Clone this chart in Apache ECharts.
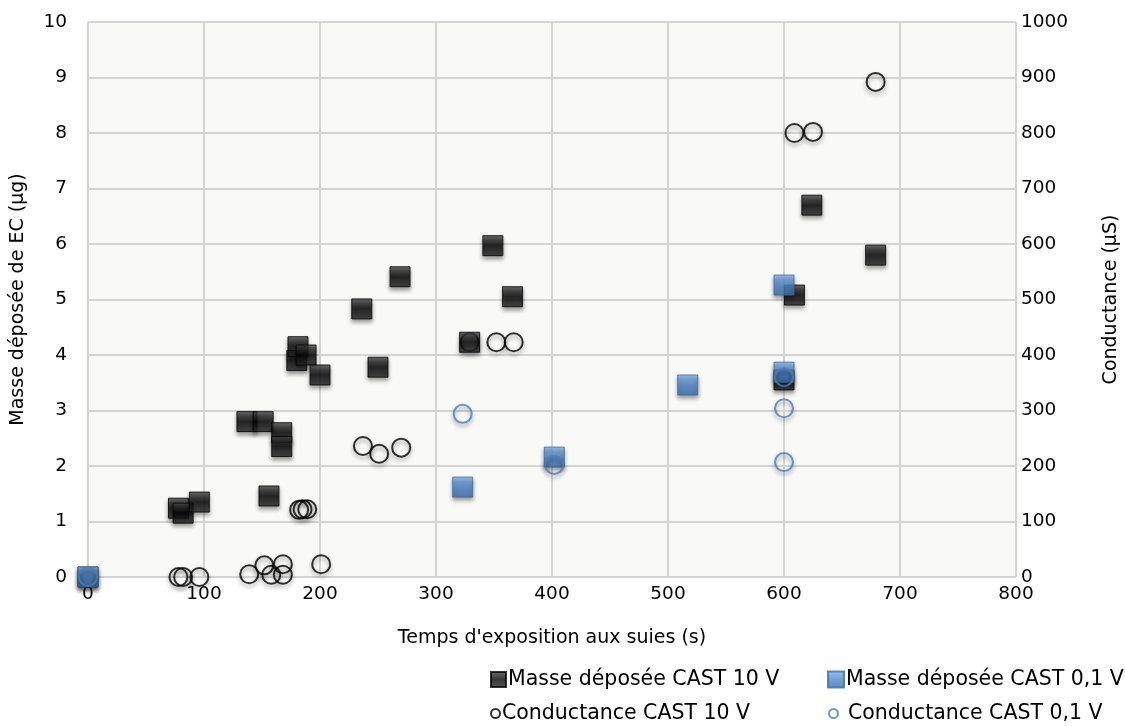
<!DOCTYPE html>
<html lang="fr">
<head>
    <meta charset="UTF-8">
    <title>Masse déposée et conductance</title>
    <style>
        html, body { margin: 0; padding: 0; background: #ffffff; }
        #chart { width: 1125px; height: 726px; }
    </style>
    <script src="https://cdn.jsdelivr.net/npm/echarts@6/dist/echarts.min.js"></script>
</head>
<body>
    <div id="chart"></div>
    <script>
        // Masse déposée CAST 10 V (µg, left axis)
        var masse10X = [0, 78, 82, 96, 137, 151, 156, 167, 167, 180, 181, 188, 200, 236, 250, 269, 329, 349, 366, 600, 609, 624, 679];
        var masse10Y = [0, 1.24, 1.15, 1.35, 2.8, 2.8, 1.46, 2.6, 2.35, 3.9, 4.15, 4.0, 3.64, 4.83, 3.78, 5.41, 4.23, 5.97, 5.05, 3.55, 5.08, 6.7, 5.8];

        // Masse déposée CAST 0,1 V (µg, left axis)
        var masse01X = [0, 323, 402, 517, 600, 600];
        var masse01Y = [0, 1.62, 2.16, 3.46, 3.69, 5.26];

        // Conductance CAST 10 V (µS, right axis)
        var cond10X = [78, 82, 96, 139, 152, 158, 168, 168, 182, 185, 189, 201, 237, 251, 270, 329, 352, 367, 609, 625, 679];
        var cond10Y = [0, 0, 0, 5, 21, 4, 23, 4, 121, 122, 122, 23, 236, 222, 233, 423, 423, 423, 800, 802, 892];

        // Conductance CAST 0,1 V (µS, right axis)
        var cond01X = [0, 323, 402, 600, 600, 600];
        var cond01Y = [0, 294, 202, 360, 304, 207];

        var seriesNames = ['Masse déposée CAST 10 V', 'Masse déposée CAST 0,1 V', 'Conductance CAST 10 V', 'Conductance CAST 0,1 V'];

        function pairs(xs, ys) {
            return xs.map(function (x, i) { return [x, ys[i]]; });
        }

        var font = 'DejaVu Sans';
        var shadow = { shadowColor: 'rgba(0,0,0,0.45)', shadowBlur: 4, shadowOffsetY: 3 };

        // one legend block per entry so the two columns line up like the original
        function legendAt(name, left, top, size, textPad) {
            return {
                left: left, top: top, padding: 0,
                itemWidth: size, itemHeight: size, itemGap: 0,
                textStyle: { fontFamily: font, fontSize: 20.5, color: '#000', padding: [0, 0, 0, textPad] },
                data: [name]
            };
        }

        var axisText = { fontFamily: font, fontSize: 18.5, color: '#000' };
        var nameText = { fontFamily: font, fontSize: 19, color: '#000' };
        var gridLine = { lineStyle: { color: '#d4d4d4', width: 2 } };

        var chart = echarts.init(document.getElementById('chart'));

        chart.setOption({
            animation: false,
            backgroundColor: '#ffffff',
            textStyle: { fontFamily: font, color: '#000' },
            grid: {
                left: 88, right: 109, top: 22, bottom: 149,
                outerBoundsMode: 'none', containLabel: false,
                show: true, backgroundColor: '#f9f9f8', borderWidth: 0
            },
            legend: [
                legendAt(seriesNames[0], 490, 669, 15, -3),
                legendAt(seriesNames[2], 490, 703, 9, -3),
                legendAt(seriesNames[1], 827, 669, 16, -3),
                legendAt(seriesNames[3], 828, 703, 9, 5)
            ],
            xAxis: {
                type: 'value', min: 0, max: 800, interval: 100,
                name: "Temps d'exposition aux suies (s)",
                nameLocation: 'middle', nameGap: 52,
                nameTextStyle: nameText,
                axisLine: { show: false }, axisTick: { show: false },
                axisLabel: Object.assign({ margin: 8 }, axisText),
                splitLine: gridLine
            },
            yAxis: [{
                type: 'value', min: 0, max: 10, interval: 1,
                name: 'Masse déposée de EC (µg)',
                nameLocation: 'middle', nameGap: 60, nameRotate: 90,
                nameTextStyle: nameText,
                axisLine: { show: false }, axisTick: { show: false },
                axisLabel: Object.assign({ margin: 21 }, axisText),
                splitLine: gridLine
            }, {
                type: 'value', min: 0, max: 1000, interval: 100,
                name: 'Conductance (µS)',
                nameLocation: 'middle', nameGap: 86, nameRotate: 90,
                nameTextStyle: nameText,
                axisLine: { show: false }, axisTick: { show: false },
                axisLabel: Object.assign({ margin: 5, formatter: function (v) { return String(v); } }, axisText),
                splitLine: { show: false }
            }],
            series: [{
                name: seriesNames[2],
                type: 'scatter', yAxisIndex: 1,
                symbol: 'circle', symbolSize: 18,
                itemStyle: Object.assign({ color: 'rgba(255,255,255,0)', borderColor: '#000', borderWidth: 2 }, shadow),
                data: pairs(cond10X, cond10Y)
            }, {
                name: seriesNames[0],
                type: 'scatter', yAxisIndex: 0,
                symbol: 'rect', symbolSize: 20,
                itemStyle: Object.assign({
                    color: new echarts.graphic.LinearGradient(0, 0, 0, 1, [
                        { offset: 0, color: '#4a4a4a' },
                        { offset: 0.5, color: '#050505' },
                        { offset: 1, color: '#2a2a2a' }
                    ]),
                    borderColor: '#000', borderWidth: 1
                }, shadow),
                data: pairs(masse10X, masse10Y)
            }, {
                name: seriesNames[1],
                type: 'scatter', yAxisIndex: 0,
                symbol: 'rect', symbolSize: 20,
                itemStyle: Object.assign({
                    color: new echarts.graphic.LinearGradient(0, 0, 0, 1, [
                        { offset: 0, color: '#86b6ec' },
                        { offset: 0.5, color: '#4f86c8' },
                        { offset: 1, color: '#3d6fae' }
                    ]),
                    borderColor: '#3a6aa5', borderWidth: 1
                }, shadow),
                data: pairs(masse01X, masse01Y)
            }, {
                name: seriesNames[3],
                type: 'scatter', yAxisIndex: 1,
                symbol: 'circle', symbolSize: 18,
                itemStyle: Object.assign({ color: 'rgba(255,255,255,0)', borderColor: '#4a7ec0', borderWidth: 2 }, shadow),
                data: pairs(cond01X, cond01Y)
            }]
        });
    </script>
</body>
</html>
